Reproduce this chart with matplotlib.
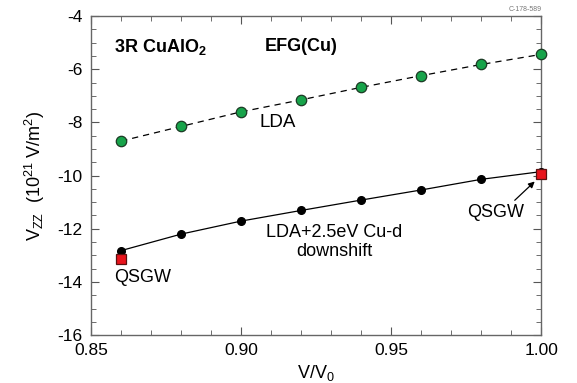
import numpy as np
import matplotlib.pyplot as plt
from matplotlib.ticker import MultipleLocator

plt.rcParams['font.family'] = ['Liberation Sans', 'DejaVu Sans']
plt.rcParams['mathtext.fontset'] = 'custom'
plt.rcParams['mathtext.rm'] = 'Liberation Sans'
plt.rcParams['mathtext.bf'] = 'Liberation Sans:bold'
plt.rcParams['mathtext.default'] = 'regular'
plt.rcParams['axes.unicode_minus'] = False

# volume ratio V/V0
vol = [0.86, 0.88, 0.90, 0.92, 0.94, 0.96, 0.98, 1.00]
# EFG at Cu, 10^21 V/m^2
lda = [-8.70, -8.15, -7.60, -7.15, -6.68, -6.24, -5.82, -5.44]
lda_u = [-12.82, -12.20, -11.71, -11.31, -10.92, -10.54, -10.14, -9.85]
qsgw_x = [0.86, 1.00]
qsgw = [-13.15, -9.95]

fig = plt.figure(figsize=(5.77, 3.83), dpi=100)
ax = fig.add_axes([0.158, 0.125, 0.780, 0.833])

ax.plot(vol, lda, '--', color='black', lw=0.9, dashes=(5, 4), zorder=2)
ax.plot(vol, lda, 'o', ms=7.5, mfc='#17a34a', mec='#1b3a24', mew=0.9, zorder=3, clip_on=False)
ax.plot(vol, lda_u, '-', color='black', lw=0.9, zorder=2)
ax.plot(vol, lda_u, 'o', ms=5.5, color='black', zorder=3, clip_on=False)
ax.plot(qsgw_x, qsgw, 's', ms=7, mfc='#e8141c', mec='#5a1010', mew=0.9, zorder=4, clip_on=False)

ax.set_xlim(0.85, 1.00)
ax.set_ylim(-16, -4)
ax.xaxis.set_minor_locator(MultipleLocator(0.01))
ax.yaxis.set_major_locator(MultipleLocator(2))
ax.yaxis.set_minor_locator(MultipleLocator(0.5))
ax.set_xticks([0.85, 0.90, 0.95, 1.00])
ax.set_xticklabels(['0.85', '0.90', '0.95', '1.00'])
ax.tick_params(which='both', direction='in', top=True, right=True, labelsize=12.5, color='#555555')
ax.tick_params(which='major', length=6, pad=6)
ax.tick_params(which='minor', length=3.5)
for s in ax.spines.values():
    s.set_color('#666666')
    s.set_linewidth(1.0)

ax.set_xlabel('V/V$_0$', fontsize=13, labelpad=3)
ax.set_ylabel('V$_{ZZ}$  (10$^{21}$ V/m$^2$)', fontsize=13, labelpad=8)

ax.text(0.8577, -5.15, r'3R CuAlO$_\mathbf{2}$', fontsize=13, fontweight='bold', va='center')
ax.text(0.9077, -5.15, 'EFG(Cu)', fontsize=13, fontweight='bold', va='center')
ax.text(0.906, -8.0, 'LDA', fontsize=13.5, va='center')
ax.text(0.931, -12.5, 'LDA+2.5eV Cu-d\ndownshift', fontsize=13, ha='center', va='center',
        linespacing=1.1)
ax.text(0.8577, -13.85, 'QSGW', fontsize=13, va='center')
ax.text(0.9847, -11.4, 'QSGW', fontsize=13, ha='center', va='center')
ax.annotate('', xy=(0.9985, -10.15), xytext=(0.9905, -11.0),
            arrowprops=dict(arrowstyle='-|>', color='black', lw=0.9, mutation_scale=9))
fig.text(0.91, 0.966, 'C-178-589', fontsize=5, color='#777777', ha='center', va='bottom')

fig.savefig('out.png', dpi=100)
